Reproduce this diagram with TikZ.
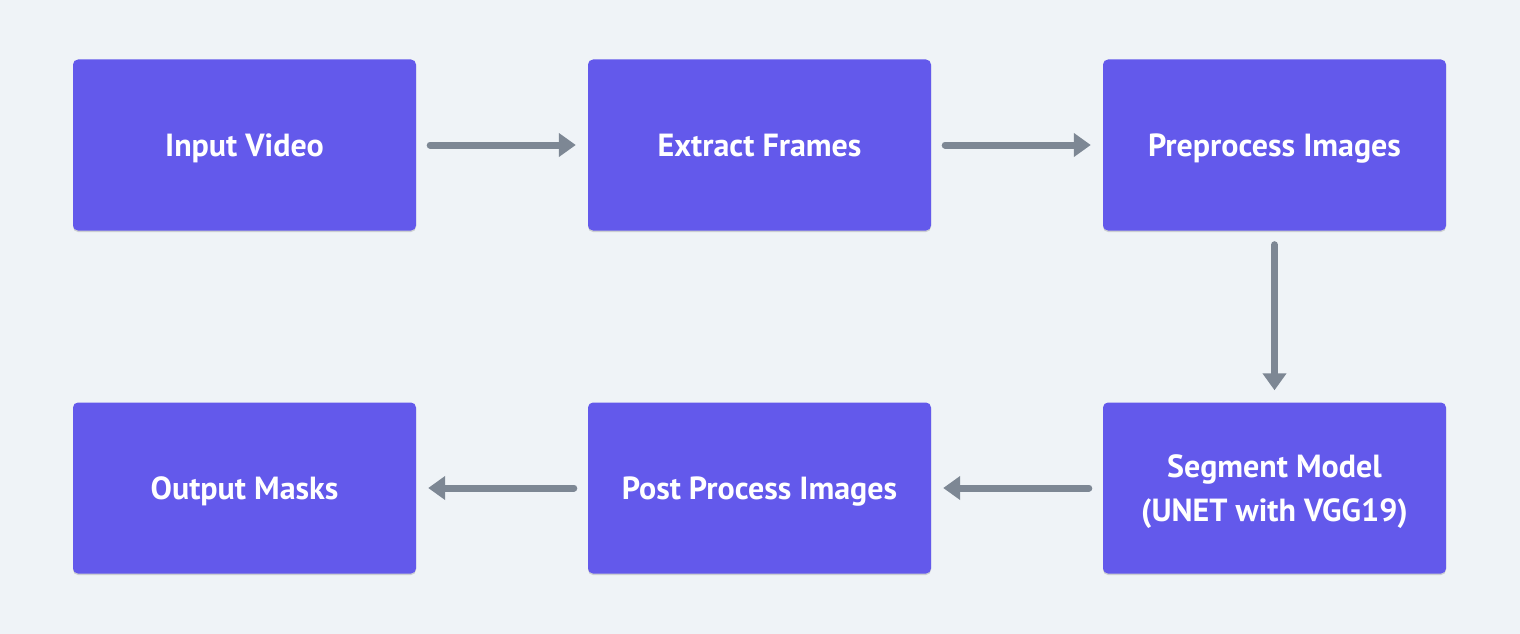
\documentclass[tikz,border=0pt]{standalone}
\usepackage{fontspec}
\setmainfont{PT Sans}
\usetikzlibrary{arrows.meta,shadows}
\definecolor{bg}{HTML}{EFF3F7}
\definecolor{boxc}{HTML}{6359EB}
\definecolor{arr}{HTML}{7D8794}
\tikzset{
  stepbox/.style={draw=none,fill=boxc,rounded corners=5pt,minimum width=343pt,minimum height=171pt,
    text=white,font=\fontsize{32}{44}\selectfont\bfseries,align=center,
    text height=22.4pt,text depth=0pt,
    drop shadow={shadow xshift=0pt,shadow yshift=-1.5pt,opacity=0.15,fill=black}},
  flow/.style={draw=arr,line width=7pt,line cap=round,-{Triangle[length=17pt,width=23pt]}}
}
\begin{document}
\begin{tikzpicture}[x=1pt,y=-1pt]
\fill[bg] (0,0) rectangle (1520,634);
\useasboundingbox (0,0) rectangle (1520,634);
\node[stepbox] (a) at (244.5,145) {Input Video};
\node[stepbox] (b) at (759.5,145) {Extract Frames};
\node[stepbox] (c) at (1274.5,145) {Preprocess Images};
\node[stepbox,text height=66.4pt] (d) at (1274.5,488) {Segment Model\\(UNET with VGG19)};
\node[stepbox] (e) at (759.5,488) {Post Process Images};
\node[stepbox] (f) at (244.5,488) {Output Masks};
\draw[flow] ([xshift=14pt]a.east) -- ([xshift=-12pt]b.west);
\draw[flow] ([xshift=14pt]b.east) -- ([xshift=-12pt]c.west);
\draw[flow] ([yshift=-14pt]c.south) -- ([yshift=12pt]d.north);
\draw[flow] ([xshift=-14pt]d.west) -- ([xshift=12pt]e.east);
\draw[flow] ([xshift=-14pt]e.west) -- ([xshift=12pt]f.east);
\end{tikzpicture}
\end{document}
